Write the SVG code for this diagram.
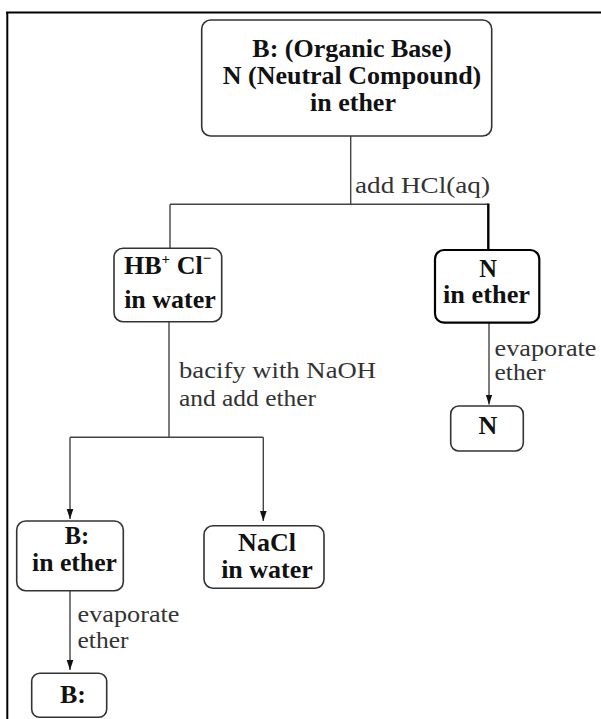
<svg xmlns="http://www.w3.org/2000/svg" width="601" height="719" viewBox="0 0 601 719">
<defs>
<style>
.box{fill:#fff;stroke:#333;stroke-width:1.6}
.boxb{fill:#fff;stroke:#000;stroke-width:2.2}
.n{font-family:"Liberation Serif","Times New Roman",serif;font-weight:bold;font-size:26px;fill:#111;text-anchor:middle}
.s{font-size:24.5px}
.l{font-family:"Liberation Serif","Times New Roman",serif;font-size:23px;fill:#333}
.c{fill:none;stroke:#444;stroke-width:1.4}
.cb{fill:none;stroke:#000;stroke-width:2.4}
</style>
<marker id="ah" markerUnits="userSpaceOnUse" markerWidth="10" markerHeight="14" refX="12" refY="4" orient="auto" viewBox="0 0 12 8">
<path d="M0,0 L12,4 L0,8 Z" fill="#111"/>
</marker>
</defs>
<rect width="601" height="719" fill="#fff"/>
<g id="frame">
<line x1="6" y1="12.5" x2="601" y2="12.5" stroke="#000" stroke-width="2"/>
<line x1="7.3" y1="12" x2="7.3" y2="719" stroke="#000" stroke-width="2"/>
</g>
<g id="connectors">
<line class="c" x1="350.7" y1="136" x2="350.7" y2="204.3"/>
<line class="c" x1="170" y1="204.3" x2="488.3" y2="204.3"/>
<line class="c" x1="170" y1="204.3" x2="170" y2="248.3"/>
<line class="cb" x1="488.3" y1="203.5" x2="488.3" y2="250"/>
<line class="c" x1="169" y1="321.7" x2="169" y2="437.3"/>
<line class="c" x1="70" y1="437.3" x2="263.3" y2="437.3"/>
<line class="c" x1="70" y1="437.3" x2="70" y2="519" marker-end="url(#ah)"/>
<line class="c" x1="263.3" y1="437.3" x2="263.3" y2="521" marker-end="url(#ah)"/>
<line class="c" x1="489" y1="322.7" x2="489" y2="404.5" marker-end="url(#ah)"/>
<line class="c" x1="70" y1="590.7" x2="70" y2="670" marker-end="url(#ah)"/>
<text class="l" x="355" y="193" textLength="135" lengthAdjust="spacingAndGlyphs">add HCl(aq)</text>
<text class="l" x="179" y="378" textLength="197" lengthAdjust="spacingAndGlyphs">bacify with NaOH</text>
<text class="l" x="179" y="406" textLength="137" lengthAdjust="spacingAndGlyphs">and add ether</text>
<text class="l" x="494.5" y="356" textLength="102" lengthAdjust="spacingAndGlyphs">evaporate</text>
<text class="l" x="494.5" y="380" textLength="51" lengthAdjust="spacingAndGlyphs">ether</text>
<text class="l" x="77.5" y="622" textLength="102" lengthAdjust="spacingAndGlyphs">evaporate</text>
<text class="l" x="77.5" y="648" textLength="51" lengthAdjust="spacingAndGlyphs">ether</text>
</g>
<g id="start">
<rect class="box" x="201.7" y="20" width="290" height="116" rx="9"/>
<text class="n" x="352" y="57">B: (Organic Base)</text>
<text class="n" x="352" y="84">N (Neutral Compound)</text>
<text class="n" x="353" y="111">in ether</text>
</g>
<g id="hb-water">
<rect class="box" x="114" y="248.3" width="107.7" height="73.4" rx="9"/>
<text class="n" x="124" y="274" style="text-anchor:start">HB<tspan font-size="15" dy="-10">+</tspan><tspan dy="10"> Cl</tspan><tspan font-size="15" dy="-11">−</tspan></text>
<text class="n" x="170" y="308">in water</text>
</g>
<g id="n-ether">
<rect class="boxb" x="435" y="250" width="104.3" height="72.7" rx="9"/>
<text class="n s" x="488" y="277">N</text>
<text class="n s" x="486.5" y="303" textLength="87" lengthAdjust="spacingAndGlyphs">in ether</text>
</g>
<g id="n-final">
<rect class="box" x="450.7" y="406" width="72.6" height="45" rx="8"/>
<text class="n" x="488" y="434">N</text>
</g>
<g id="b-ether">
<rect class="box" x="16.7" y="521" width="106.6" height="69.7" rx="9"/>
<text class="n s" x="77" y="544">B:</text>
<text class="n s" x="74.5" y="571" textLength="85" lengthAdjust="spacingAndGlyphs">in ether</text>
</g>
<g id="nacl-water">
<rect class="box" x="204" y="525.7" width="120" height="62.6" rx="9"/>
<text class="n" x="267" y="551">NaCl</text>
<text class="n" x="267" y="578">in water</text>
</g>
<g id="b-final">
<rect class="box" x="31.7" y="673.3" width="75" height="44" rx="8"/>
<text class="n" x="73" y="703">B:</text>
</g>
</svg>
